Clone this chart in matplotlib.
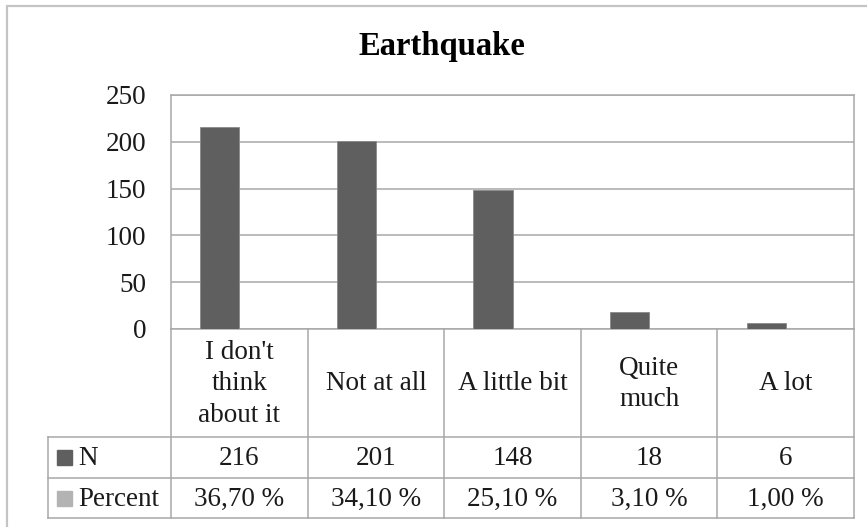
import matplotlib
matplotlib.use("Agg")
import matplotlib.pyplot as plt
from matplotlib.patches import Rectangle
from matplotlib.lines import Line2D

categories = ["I don't\nthink\nabout it", "Not at all", "A little bit", "Quite\nmuch", "A lot"]
n_values = [216, 201, 148, 18, 6]
percent_values = [0.367, 0.341, 0.251, 0.031, 0.010]
series_names = ["N", "Percent"]
y_ticks = [0, 50, 100, 150, 200, 250]
title = "Earthquake"

W, H = 867, 527
DPI = 100
FONT = ["Liberation Serif", "DejaVu Serif"]
plt.rcParams['font.family'] = FONT

c_n = "#5f5f5f"
c_p = "#b3b3b3"
c_grid = "#a8a8a8"
c_text = "#1a1a1a"
FS = 19.5

fig = plt.figure(figsize=(W / DPI, H / DPI), dpi=DPI)

# plot area in pixels
px_l, px_r, px_t, px_b = 171, 854, 95, 329
ax = fig.add_axes([px_l / W, 1 - px_b / H, (px_r - px_l) / W, (px_b - px_t) / H])

ncat = len(categories)
bw = 1 / 3.5
xs = list(range(ncat))
ax.bar([x - bw / 2 for x in xs], n_values, width=bw, color=c_n, edgecolor="#8a8a8a", linewidth=0.6, zorder=3)
ax.bar([x + bw / 2 for x in xs], percent_values, width=bw, color=c_p, edgecolor=c_p, linewidth=0.3, zorder=3)

ax.set_xlim(-0.5, ncat - 0.5)
ax.set_ylim(0, 250)
ax.set_yticks(y_ticks)
ax.set_yticklabels([str(v) for v in y_ticks], fontsize=FS, color=c_text)
ax.set_xticks([])
ax.tick_params(axis='y', length=0, pad=18)
ax.grid(axis='y', color=c_grid, linewidth=1.1, zorder=0)
for s in ax.spines.values():
    s.set_color(c_grid)
    s.set_linewidth(1.1)

# data table (x in data coords, y in axes coords)
tr = ax.get_xaxis_transform()
ax_h = px_b - px_t

def ya(p):
    return (px_b - p) / ax_h

row_cat_b = 437
row_n_b = 477.7
row_p_b = 518.3
legend_left_px = 48
x_leg = -0.5 - (px_l - legend_left_px) / ((px_r - px_l) / ncat)

lw = 1.1
# horizontal lines
for yy in (row_cat_b, row_n_b, row_p_b):
    ax.add_line(Line2D([x_leg, ncat - 0.5], [ya(yy), ya(yy)], transform=tr, color=c_grid, lw=lw, clip_on=False))
# vertical lines
for k in range(ncat + 1):
    xv = -0.5 + k
    ax.add_line(Line2D([xv, xv], [ya(px_b), ya(row_p_b)], transform=tr, color=c_grid, lw=lw, clip_on=False))
ax.add_line(Line2D([x_leg, x_leg], [ya(row_cat_b), ya(row_p_b)], transform=tr, color=c_grid, lw=lw, clip_on=False))

# category labels
for i, c in enumerate(categories):
    ax.text(i, ya((px_b + row_cat_b) / 2 + 1), c, transform=tr, ha='center', va='center',
            fontsize=FS, color=c_text, linespacing=1.35, clip_on=False)

# N and Percent rows
for i in range(ncat):
    ax.text(i, ya((row_cat_b + row_n_b) / 2 + 1), str(n_values[i]), transform=tr, ha='center', va='center',
            fontsize=FS, color=c_text, clip_on=False)
    pct = f"{percent_values[i] * 100:.2f}".replace('.', ',') + " %"
    ax.text(i, ya((row_n_b + row_p_b) / 2 + 1), pct, transform=tr, ha='center', va='center',
            fontsize=FS, color=c_text, clip_on=False)

# legend keys in table
for name, col, (yt, yb) in zip(series_names, [c_n, c_p], [(row_cat_b, row_n_b), (row_n_b, row_p_b)]):
    yc = (yt + yb) / 2
    fig.patches.append(Rectangle((57 / W, 1 - (yc + 7.5) / H), 15 / W, 15 / H,
                                 transform=fig.transFigure, color=col, figure=fig))
    fig.text(78 / W, 1 - (yc + 1) / H, name, ha='left', va='center', fontsize=FS, color=c_text)

# title
fig.text(442 / W, 1 - 55 / H, title, ha='center', va='baseline', fontsize=23.5, fontweight='bold', color="#000000")

# outer chart border
fig.patches.append(Rectangle((7 / W, -0.05), 1.05, 1 - 6 / H + 0.05, transform=fig.transFigure,
                             fill=False, edgecolor="#c4c4c4", linewidth=1.6, figure=fig))

fig.savefig("out.png", dpi=DPI)
